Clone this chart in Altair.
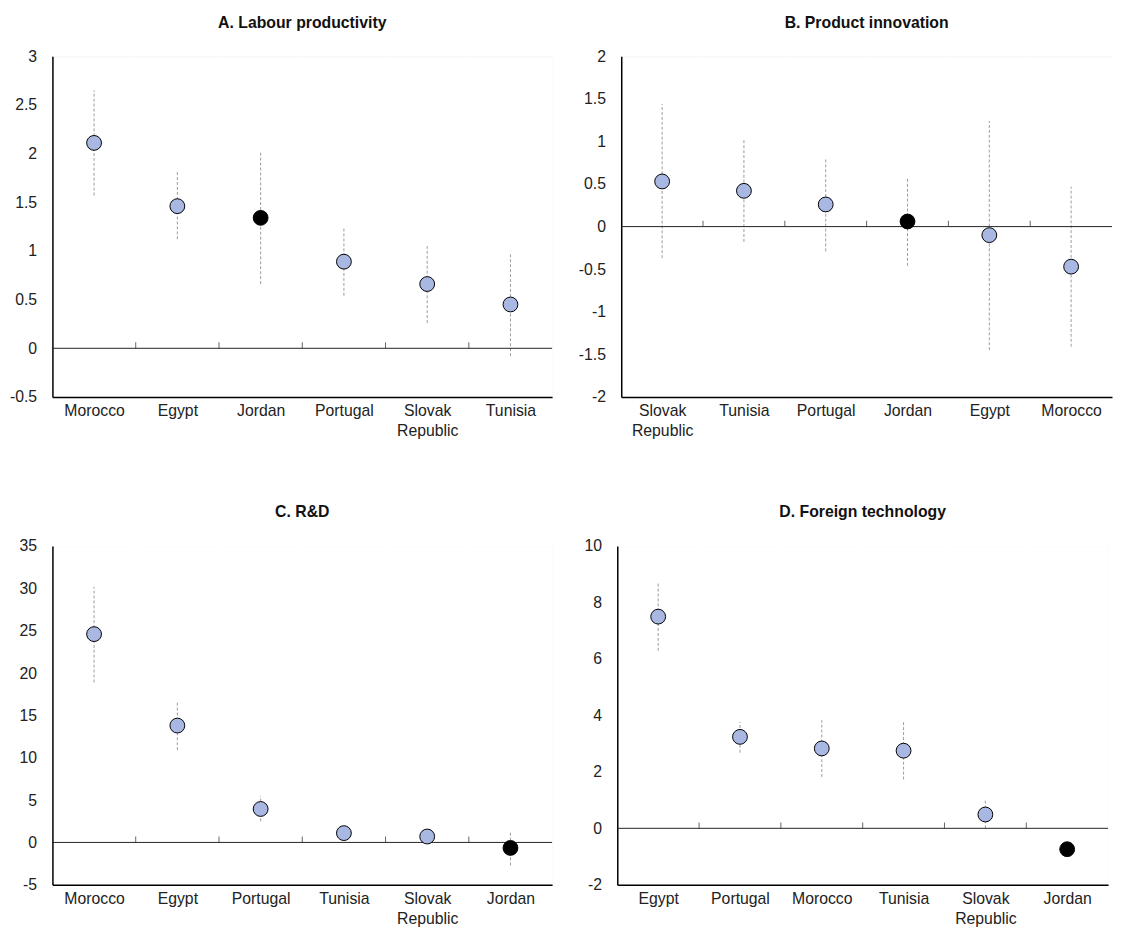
import altair as alt
import pandas as pd

FONT = "Liberation Sans, Arial, sans-serif"

# Panel A. Labour productivity
a_cats = ["Morocco", "Egypt", "Jordan", "Portugal", "Slovak Republic", "Tunisia"]
a_vals = [2.11, 1.46, 1.34, 0.89, 0.66, 0.45]
a_lo = [1.57, 1.12, 0.66, 0.54, 0.26, -0.08]
a_hi = [2.65, 1.81, 2.01, 1.24, 1.05, 0.98]
a_ticks = [-0.5, 0, 0.5, 1, 1.5, 2, 2.5, 3]

# Panel B. Product innovation
b_cats = ["Slovak Republic", "Tunisia", "Portugal", "Jordan", "Egypt", "Morocco"]
b_vals = [0.53, 0.42, 0.26, 0.06, -0.10, -0.47]
b_lo = [-0.37, -0.18, -0.29, -0.46, -1.45, -1.41]
b_hi = [1.44, 1.03, 0.81, 0.58, 1.24, 0.47]
b_ticks = [-2, -1.5, -1, -0.5, 0, 0.5, 1, 1.5, 2]

# Panel C. R&D
c_cats = ["Morocco", "Egypt", "Portugal", "Tunisia", "Slovak Republic", "Jordan"]
c_vals = [24.6, 13.8, 3.95, 1.1, 0.7, -0.65]
c_lo = [18.9, 10.9, 2.5, 0.5, 0.1, -2.7]
c_hi = [30.2, 16.6, 5.5, 1.7, 1.3, 1.3]
c_ticks = [-5, 0, 5, 10, 15, 20, 25, 30, 35]

# Panel D. Foreign technology
d_cats = ["Egypt", "Portugal", "Morocco", "Tunisia", "Slovak Republic", "Jordan"]
d_vals = [7.5, 3.24, 2.83, 2.75, 0.49, -0.74]
d_lo = [6.29, 2.68, 1.82, 1.73, 0.0, -0.9]
d_hi = [8.71, 3.77, 3.83, 3.76, 0.98, -0.6]
d_ticks = [-2, 0, 2, 4, 6, 8, 10]

HIGHLIGHT = "Jordan"


def panel(title, cats, vals, lo, hi, ticks, width, height):
    df = pd.DataFrame({"country": cats, "val": vals, "lo": lo, "hi": hi})
    df["hl"] = df["country"].eq(HIGHLIGHT).map({True: "y", False: "n"})
    bnd = pd.DataFrame({"country": cats[1:], "zero": [0] * (len(cats) - 1)})
    zero = pd.DataFrame({"zero": [0]})

    ydom = [ticks[0], ticks[-1]]
    xscale = alt.Scale(type="band", domain=cats, paddingInner=0, paddingOuter=0)
    yscale = alt.Scale(domain=ydom, nice=False, zero=False)

    xaxis = alt.Axis(
        title=None, labelAngle=0, ticks=False, grid=True, tickBand="extent",
        gridColor="white", gridWidth=1, domain=True, domainColor="black",
        domainWidth=1.5, labelPadding=6, labelFontSize=16, labelColor="#222",
        labelFont=FONT, labelLineHeight=20,
        labelExpr="datum.label == 'Slovak Republic' ? ['Slovak', 'Republic'] : datum.label",
        minExtent=45, maxExtent=45,
    )
    yaxis = alt.Axis(
        title=None, values=ticks, grid=True, gridColor="white", gridWidth=1,
        domain=True, domainColor="black", domainWidth=1.5, ticks=False,
        labelFontSize=16, labelColor="#222", labelFont=FONT,
        labelPadding=16, labelExpr="toString(datum.value)",
        minExtent=40, maxExtent=40,
    )

    bars = alt.Chart(df).mark_rule(
        color="#9a9a9a", strokeWidth=1, strokeDash=[3, 2]
    ).encode(
        x=alt.X("country:N", scale=xscale, axis=xaxis),
        y=alt.Y("lo:Q", scale=yscale, axis=yaxis),
        y2="hi:Q",
    )
    zline = alt.Chart(zero).mark_rule(color="#222", strokeWidth=1).encode(
        y=alt.Y("zero:Q", scale=yscale)
    )
    bticks = alt.Chart(bnd).mark_tick(
        orient="vertical", size=6, thickness=1, color="#222", yOffset=-3
    ).encode(
        x=alt.X("country:N", scale=xscale, bandPosition=0),
        y=alt.Y("zero:Q", scale=yscale),
    )
    pts = alt.Chart(df).mark_point(
        filled=True, shape="circle", size=225, stroke="black", strokeWidth=1,
        opacity=1, strokeOpacity=1,
    ).encode(
        x=alt.X("country:N", scale=xscale),
        y=alt.Y("val:Q", scale=yscale),
        fill=alt.Fill("hl:N", scale=alt.Scale(domain=["n", "y"], range=["#A8B8E2", "#000000"]), legend=None),
    )
    return alt.layer(bars, zline, bticks, pts).properties(
        width=width, height=height,
        title=alt.TitleParams(title, fontSize=16, fontWeight="bold", font=FONT,
                              color="#111", offset=18, anchor="middle"),
    )


A = panel("A. Labour productivity", a_cats, a_vals, a_lo, a_hi, a_ticks, 506, 345)
B = panel("B. Product innovation", b_cats, b_vals, b_lo, b_hi, b_ticks, 497, 345)
C = panel("C. R&D", c_cats, c_vals, c_lo, c_hi, c_ticks, 506, 343)
D = panel("D. Foreign technology", d_cats, d_vals, d_lo, d_hi, d_ticks, 497, 343)

chart = alt.vconcat(
    alt.hconcat(A, B, spacing=24),
    alt.hconcat(C, D, spacing=24),
    spacing=62,
).properties(
    padding={"left": 0, "top": 0, "right": 0, "bottom": 0}
).configure_view(
    fill="#EFFBFF", stroke="#222", strokeWidth=1
).configure(background="white")

chart.save("out.html", embed_options={"renderer": "svg", "actions": False})
